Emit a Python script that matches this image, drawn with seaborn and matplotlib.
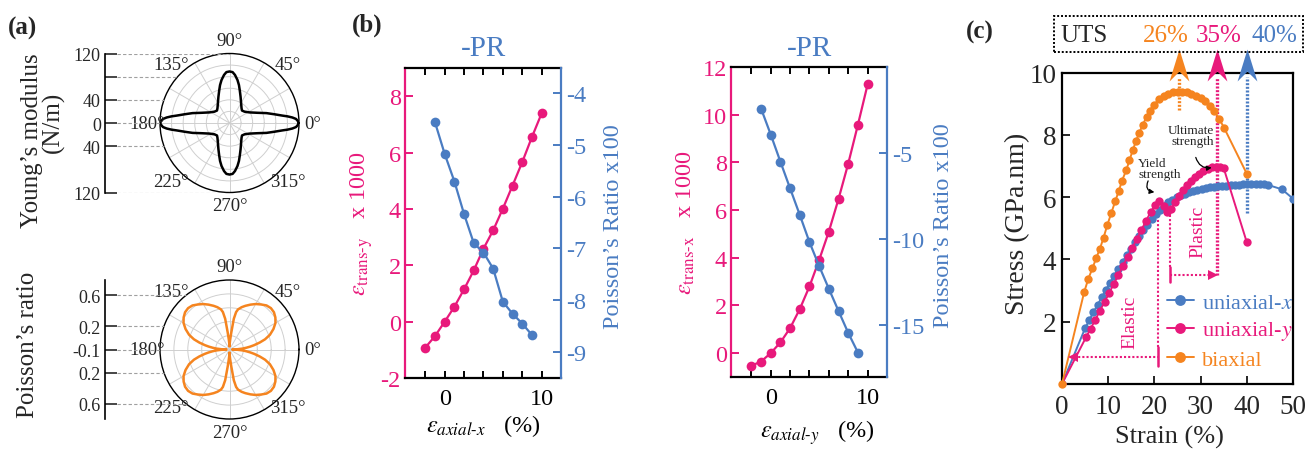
import numpy as np
import matplotlib
matplotlib.use("Agg")
import matplotlib.pyplot as plt
import seaborn as sns
from matplotlib.path import Path
from matplotlib.patches import Rectangle

sns.set_theme(style="white")
plt.rcParams["font.family"] = ["Liberation Serif", "DejaVu Serif"]
plt.rcParams["mathtext.fontset"] = "stix"
plt.rcParams["axes.unicode_minus"] = False

PINK = "#E8197B"
BLUE = "#4A7CC2"
ORANGE = "#F5841F"

# ---- (a) polar data, first quadrant (mirrored to the full circle) ----
young_theta = [0, 2, 3.5, 5, 6.5, 8, 11, 15, 20, 28, 37, 45, 51, 60, 67, 72, 76, 79.5, 83.5, 86.5, 90]
young_mod = [120, 117.5, 115, 109, 101, 92, 79, 66, 51.5, 39, 32.5, 30.5, 33, 40, 49, 58, 67.5, 75.5, 83.5, 88, 89]

poisson_theta = [0, 2, 4, 6, 8, 10, 13, 16, 20, 25, 30, 35, 40, 45, 50, 55, 60, 65, 70, 74, 78, 80, 82, 84, 86, 88, 90]
poisson_ratio = [-0.061, 0.004, 0.068, 0.120, 0.172, 0.224, 0.302, 0.379, 0.457, 0.528, 0.587, 0.625, 0.651,
                 0.658, 0.645, 0.612, 0.580, 0.541, 0.502, 0.470, 0.431, 0.392, 0.302, 0.120, 0.030, -0.022, -0.061]

# ---- (b) strain / Poisson's ratio ----
axial_x = [-2, -1, 0, 1, 2, 3, 4, 5, 6, 7, 8, 9, 10]
trans_y = [-0.92, -0.51, 0.0, 0.53, 1.15, 1.82, 2.59, 3.24, 4.01, 4.83, 5.66, 6.55, 7.39]
pr_axial_x = [-1, 0, 1, 2, 3, 4, 5, 6, 7, 8, 9]
pr_x = [-4.57, -5.18, -5.71, -6.34, -6.90, -7.08, -7.39, -8.03, -8.26, -8.45, -8.67]

axial_y = [-2, -1, 0, 1, 2, 3, 4, 5, 6, 7, 8, 9, 10]
trans_x = [-0.53, -0.35, 0.0, 0.45, 1.05, 1.85, 2.80, 3.91, 5.10, 6.47, 7.95, 9.58, 11.27]
pr_axial_y = [-1, 0, 1, 2, 3, 4, 5, 6, 7, 8, 9]
pr_y = [-2.41, -3.92, -5.50, -7.05, -8.59, -10.17, -11.56, -12.88, -14.17, -15.44, -16.58]

# ---- (c) stress-strain ----
ux_strain = [0, 5.0, 5.9, 6.8, 7.7, 8.6, 9.5, 10.4, 11.3, 12.2, 13.1, 14.0, 14.9, 15.8, 16.7, 17.6, 18.5, 19.4,
             20.3, 21.2, 22.1, 23.0, 23.9, 24.8, 25.7, 26.6, 27.5, 28.4, 29.3, 30.2, 31.1, 32.0, 32.9, 33.8, 34.7,
             35.6, 36.5, 37.4, 38.3, 39.2, 40.1, 41.0, 41.9, 42.8, 43.7, 44.6, 47.6, 50.0]
ux_stress = [0, 1.79, 2.05, 2.30, 2.54, 2.78, 3.02, 3.25, 3.48, 3.70, 3.92, 4.13, 4.34, 4.55, 4.75, 4.94, 5.12, 5.29,
             5.45, 5.59, 5.72, 5.83, 5.92, 6.00, 6.06, 6.11, 6.16, 6.20, 6.23, 6.26, 6.29, 6.31, 6.33, 6.35, 6.36,
             6.37, 6.38, 6.39, 6.40, 6.41, 6.41, 6.42, 6.42, 6.42, 6.41, 6.39, 6.25, 5.95]
uy_strain = [0, 5.2, 6.2, 7.2, 8.2, 9.2, 10.2, 11.2, 12.2, 13.2, 14.2, 15.2, 16.2, 17.2, 18.2, 19.2, 20.2, 21.1,
             22.0, 22.8, 23.6, 24.4, 25.3, 26.1, 27.0, 27.9, 28.8, 29.7, 30.6, 31.5, 32.4, 33.3, 34.2, 35.0, 40.0]
uy_stress = [0, 1.50, 1.78, 2.06, 2.35, 2.63, 2.92, 3.21, 3.50, 3.79, 4.08, 4.37, 4.66, 4.95, 5.24, 5.52, 5.75, 5.88,
             5.72, 5.52, 5.62, 5.84, 6.05, 6.22, 6.38, 6.52, 6.64, 6.75, 6.84, 6.91, 6.96, 6.98, 6.97, 6.93, 4.55]
bi_strain = [0, 4.8, 5.7, 6.6, 7.4, 8.2, 9.0, 9.8, 10.7, 11.5, 12.3, 13.0, 13.9, 14.6, 15.3, 16.0, 16.7, 17.5, 18.3,
             19.0, 19.9, 21.0, 22.0, 23.0, 24.0, 25.0, 26.0, 27.0, 28.0, 29.0, 30.0, 31.0, 32.0, 33.0, 34.0, 35.1, 40.0]
bi_stress = [0, 2.95, 3.38, 3.72, 4.04, 4.34, 4.70, 5.10, 5.50, 5.86, 6.20, 6.53, 6.86, 7.18, 7.50, 7.79, 8.06, 8.33,
             8.57, 8.78, 8.97, 9.14, 9.25, 9.32, 9.36, 9.38, 9.38, 9.36, 9.32, 9.26, 9.17, 9.07, 8.93, 8.75, 8.52,
             8.22, 6.75]

uts_labels = ["26%", "35%", "40%"]
uts_strain = [25.3, 33.5, 40.0]
uts_shaft_low = [8.8, 3.5, 5.5]
uts_colors = [ORANGE, PINK, BLUE]

W, H = 1311, 452


def box(l, t, r, b):
    return [l / W, 1 - b / H, (r - l) / W, (b - t) / H]


def full_circle(theta_deg, vals):
    t = np.asarray(theta_deg, float)
    v = np.asarray(vals, float)
    th = np.concatenate([t, 180 - t[::-1], 180 + t, 360 - t[::-1]])
    rr = np.concatenate([v, v[::-1], v, v[::-1]])
    return np.deg2rad(th), rr


fig = plt.figure(figsize=(W / 100, H / 100), dpi=100)


def polar_panel(cy, theta_deg, vals, rmin, rmax, rings, color, offsets, labels):
    R, cx, rx = 69.5, 229.5, 105
    ax = fig.add_axes(box(cx - R, cy - R, cx + R, cy + R), projection="polar")
    th, rr = full_circle(theta_deg, vals)
    ax.plot(th, rr, color=color, lw=1.8)
    ax.set_ylim(rmin, rmax)
    ax.set_yticks(rings)
    ax.set_yticklabels([])
    ax.set_xticks(np.deg2rad(np.arange(0, 360, 30)))
    ax.set_xticklabels([])
    ax.grid(True, color="#cfcfcf", lw=0.7)
    ax.spines["polar"].set_color("black")
    ax.spines["polar"].set_linewidth(1.0)
    for a in range(0, 360, 45):
        ax.text(np.deg2rad(a), rmin + 1.19 * (rmax - rmin), f"{a}°", ha="center", va="center", fontsize=13.5)

    # ruler on the left
    span = rmax - rmin
    axr = fig.add_axes(box(rx, cy - R, cx, cy + R))
    axr.patch.set_visible(False)
    axr.set_xlim(0, cx - rx)
    axr.set_ylim(-span, span)
    for s in ["top", "right", "bottom"]:
        axr.spines[s].set_visible(False)
    axr.spines["left"].set_color("black")
    axr.spines["left"].set_linewidth(1.2)
    axr.set_xticks([])
    axr.set_yticks(offsets)
    axr.set_yticklabels(labels)
    axr.tick_params(axis="y", left=True, direction="in", length=8.6, width=1.2, labelsize=13, pad=3)
    for off in offsets:
        h = off / span * R
        xe = (cx - rx) - np.sqrt(max(R ** 2 - h ** 2, 0))
        axr.plot([12, xe], [off, off], ls=(0, (3, 2)), color="#a0a0a0", lw=0.8)


polar_panel(124, young_theta, young_mod, 0, 120, [20, 40, 60, 80, 100], "black",
            [120, 80, 40, 0, -40, -120], ["120", "", "40", "0", "40", "120"])
polar_panel(350.5, poisson_theta, poisson_ratio, -0.1, 0.8, [0.08, 0.26, 0.44, 0.62], ORANGE,
            [0.7, 0.3, 0, -0.3, -0.7], ["0.6", "0.2", "-0.1", "0.2", "0.6"])

fig.text(32 / W, 1 - 141 / H, "Young’s modulus", rotation=90, ha="center", va="center", fontsize=18)
fig.text(53 / W, 1 - 122 / H, "(N/m)", rotation=90, ha="center", va="center", fontsize=18)
fig.text(28 / W, 1 - 345 / H, "Poisson’s ratio", rotation=90, ha="center", va="center", fontsize=18)


# ---- (b) ----
def pr_panel(rect, x1, y1, x2, y2, ylim1, ylim2, yt1, yt2, ylab1, xlab, lab_x, xlab_pos):
    ax = fig.add_axes(rect)
    sns.lineplot(x=x1, y=y1, ax=ax, color=PINK, marker="o", markersize=7, markeredgewidth=0, linewidth=1.6)
    ax.set_xlim(-4.1, 12)
    ax.set_ylim(*ylim1)
    ax.set_xticks([-2, 0, 2, 4, 6, 8, 10])
    ax.set_xticklabels(["", "0", "", "", "", "", "10"])
    ax.set_yticks(yt1)
    ax.tick_params(axis="x", bottom=True, top=True, direction="in", length=5, width=1.4, labelsize=17.5,
                   pad=7, colors="black")
    ax.tick_params(axis="y", left=True, direction="in", length=6, width=1.4, labelsize=17.5, pad=3,
                   colors=PINK)
    axr = ax.twinx()
    sns.lineplot(x=x2, y=y2, ax=axr, color=BLUE, marker="o", markersize=7, markeredgewidth=0, linewidth=1.6)
    axr.set_ylim(*ylim2)
    axr.set_yticks(yt2)
    axr.tick_params(axis="y", right=True, direction="in", length=6, width=1.4, labelsize=17.5, pad=4,
                    colors=BLUE)
    for s in ["top", "bottom"]:
        ax.spines[s].set_color("black")
        ax.spines[s].set_linewidth(1.6)
        axr.spines[s].set_visible(False)
    ax.spines["right"].set_visible(False)
    axr.spines["left"].set_visible(False)
    ax.spines["left"].set_color(PINK)
    ax.spines["left"].set_linewidth(1.6)
    axr.spines["right"].set_color(BLUE)
    axr.spines["right"].set_linewidth(1.6)
    ax.set_ylabel(ylab1, color=PINK, fontsize=17.5)
    ax.yaxis.set_label_coords(lab_x[0], 0.5)
    axr.set_ylabel("Poisson’s Ratio x100", color=BLUE, fontsize=17.5)
    axr.yaxis.set_label_coords(lab_x[1], 0.49)
    ax.set_xlabel(xlab, color="black", fontsize=17.5)
    ax.xaxis.set_label_coords(*xlab_pos)
    ax.set_title("-PR", color=BLUE, fontsize=21, pad=9)
    return ax


pr_panel(box(405, 69, 561, 379), axial_x, trans_y, pr_axial_x, pr_x, (-2, 9), (-9.5, -3.52),
         [-2, 0, 2, 4, 6, 8], [-9, -8, -7, -6, -5, -4],
         r"$\varepsilon_{\mathrm{trans\text{-}y}}$   x 1000", r"$\varepsilon_{axial\text{-}x}$   (%)",
         (-0.19, 1.271), (0.5, -0.11))
pr_panel(box(731, 68, 887, 378), axial_y, trans_x, pr_axial_y, pr_y, (-1, 12), (-18, 0),
         [0, 2, 4, 6, 8, 10, 12], [-15, -10, -5],
         r"$\varepsilon_{\mathrm{trans\text{-}x}}$   x 1000", r"$\varepsilon_{axial\text{-}y}$   (%)",
         (-0.22, 1.297), (0.55, -0.13))

# ---- (c) ----
axc = fig.add_axes(box(1062, 73.5, 1293, 385))
sns.lineplot(x=ux_strain, y=ux_stress, ax=axc, color=BLUE, marker="o", markersize=6, markeredgewidth=0,
             linewidth=1.4, label="uniaxial-$x$", zorder=3)
sns.lineplot(x=uy_strain, y=uy_stress, ax=axc, color=PINK, marker="o", markersize=6, markeredgewidth=0,
             linewidth=1.4, label="uniaxial-$y$", zorder=3)
sns.lineplot(x=bi_strain, y=bi_stress, ax=axc, color=ORANGE, marker="o", markersize=6, markeredgewidth=0,
             linewidth=1.4, label="biaxial", zorder=3, clip_on=False)
axc.set_xlim(0, 50)
axc.set_ylim(0, 10)
axc.set_xticks([0, 10, 20, 30, 40, 50])
axc.set_yticks([2, 4, 6, 8, 10])
axc.tick_params(axis="x", bottom=True, direction="in", length=6, width=1.4, labelsize=19.5, pad=7)
axc.tick_params(axis="y", left=True, direction="in", length=6, width=1.4, labelsize=19.5, pad=4)
for s in axc.spines.values():
    s.set_color("black")
    s.set_linewidth(1.6)
axc.set_xlabel("Strain (%)", fontsize=19)
axc.xaxis.set_label_coords(0.467, -0.13)
axc.set_ylabel("Stress (GPa.nm)", fontsize=20)
axc.yaxis.set_label_coords(-0.139, 0.518)

handles, labels = axc.get_legend_handles_labels()
leg = axc.legend(handles, labels, loc="upper left", bbox_to_anchor=(0.455, 0.295), frameon=False, fontsize=16,
                 handlelength=1.2, handletextpad=0.35, labelspacing=0.3, borderaxespad=0, borderpad=0,
                 markerscale=1.3)
for t, c in zip(leg.get_texts(), [BLUE, PINK, ORANGE]):
    t.set_color(c)

# UTS arrows
head = Path([(0, 0.5), (0.31, -0.5), (0, -0.19), (-0.31, -0.5), (0, 0.5)],
            [Path.MOVETO, Path.LINETO, Path.LINETO, Path.LINETO, Path.CLOSEPOLY])
for xs, lo, c in zip(uts_strain, uts_shaft_low, uts_colors):
    axc.plot([xs, xs], [lo, 9.85], color=c, lw=2.4, ls=(0, (0.6, 0.5)), clip_on=False, zorder=2)
    axc.plot([xs], [10.25], marker=head, markersize=23, color=c, markeredgewidth=0, clip_on=False, zorder=4)

# elastic / plastic markers
dot = (0, (1, 1))
axc.plot([2.6, 20.7], [0.88, 0.88], color=PINK, lw=1.5, ls=dot, zorder=2)
axc.plot([2.4], [0.88], marker="<", markersize=7, color=PINK, markeredgewidth=0, zorder=4)
axc.plot([20.7, 20.7], [0.59, 1.18], color=PINK, lw=1.8, zorder=2)
axc.plot([20.8, 20.8], [1.18, 5.85], color=PINK, lw=1.5, ls=dot, zorder=2)
axc.plot([23.3, 23.3], [3.27, 3.75], color=PINK, lw=1.8, zorder=2)
axc.plot([23.3, 23.3], [3.75, 5.5], color=PINK, lw=1.5, ls=dot, zorder=2)
axc.plot([23.3, 32.6], [3.5, 3.5], color=PINK, lw=1.5, ls=dot, zorder=2)
axc.plot([32.6], [3.5], marker=">", markersize=7, color=PINK, markeredgewidth=0, zorder=4)
axc.text(14.7, 2.0, "Elastic", rotation=90, color=PINK, fontsize=14, ha="center", va="center")
axc.text(29.4, 4.92, "Plastic", rotation=90, color=PINK, fontsize=14, ha="center", va="center")

axc.text(16.5, 7.29, "Yield\nstrength", fontsize=9.5, ha="left", va="top", linespacing=0.95,
         multialignment="left")
axc.annotate("", xy=(20.6, 6.15), xytext=(18.9, 6.6),
             arrowprops=dict(arrowstyle="-|>", color="black", lw=0.9, mutation_scale=7,
                             connectionstyle="arc3,rad=0.8"))
axc.text(32.9, 8.35, "Ultimate\nstrength", fontsize=9.5, ha="right", va="top", linespacing=0.95,
         multialignment="right")
axc.annotate("", xy=(33.0, 6.96), xytext=(28.8, 7.36),
             arrowprops=dict(arrowstyle="-|>", color="black", lw=0.9, mutation_scale=7,
                             connectionstyle="arc3,rad=0.5"))

# UTS box
fig.patches.append(Rectangle((1054 / W, 1 - 53 / H), 249 / W, 36 / H, transform=fig.transFigure,
                             fill=False, ls=(0, (1, 1)), lw=1.4, edgecolor="black"))
fig.text(1060 / W, 1 - 36 / H, "UTS", fontsize=18, ha="left", va="center")
for lab, xc, c in zip(uts_labels, [1166, 1219, 1274], uts_colors):
    fig.text(xc / W, 1 - 36 / H, lab, fontsize=18, ha="center", va="center", color=c)

# panel letters
fig.text(8 / W, 1 - 28 / H, "(a)", fontsize=18, fontweight="bold", va="center")
fig.text(352 / W, 1 - 25 / H, "(b)", fontsize=18, fontweight="bold", va="center")
fig.text(966 / W, 1 - 32 / H, "(c)", fontsize=18, fontweight="bold", va="center")

fig.savefig("out.png", dpi=100)
